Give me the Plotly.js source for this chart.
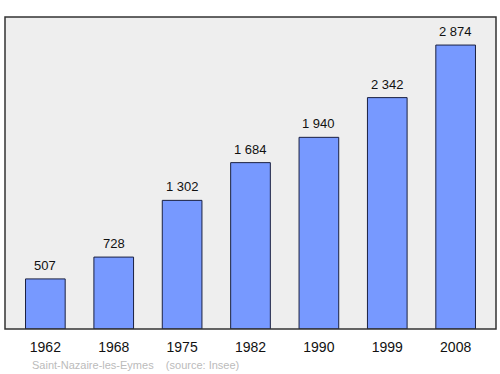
<!DOCTYPE html>
<html><head><meta charset="utf-8">
<script src="https://cdn.plot.ly/plotly-3.0.1.min.js"></script>
<style>body{margin:0;background:#fff}#c{width:500px;height:374px}</style>
</head><body><div id="c"></div>
<script>
const years = ['1962','1968','1975','1982','1990','1999','2008'];
const population = [507, 728, 1302, 1684, 1940, 2342, 2874];
const sourceText = 'Saint-Nazaire-les-Eymes\u00a0\u00a0\u00a0\u00a0(source: Insee)';

function fmt(v){ return String(v).replace(/\B(?=(\d{3})+(?!\d))/g, ' '); }

const trace = {
  type: 'bar', x: years, y: population, width: 0.58,
  marker: {color: '#7799ff', line: {color: '#1a2040', width: 1}},
  hoverinfo: 'none'
};
const ann = years.map((y, i) => ({
  x: i, y: population[i], xref: 'x', yref: 'y', text: fmt(population[i]),
  showarrow: false, yanchor: 'bottom', yshift: 4,
  font: {family: 'Liberation Sans, Arial, sans-serif', size: 13, color: '#111'}
}));
ann.push({x: (30-5)/491, y: -(365-329)/312, xref: 'paper', yref: 'paper', text: sourceText,
  showarrow: false, xanchor: 'left', yanchor: 'middle',
  font: {family: 'Liberation Sans, Arial, sans-serif', size: 11, color: '#bbbbbb'}});

const layout = {
  width: 500, height: 374,
  margin: {l: 5, r: 4, t: 17, b: 45},
  paper_bgcolor: '#ffffff', plot_bgcolor: '#eeeeee',
  showlegend: false,
  xaxis: {type: 'category', range: [-0.59, 6.59], showgrid: false, zeroline: false, showline: false,
    ticks: '', ticklabelstandoff: 8,
    tickfont: {family: 'Liberation Sans, Arial, sans-serif', size: 14, color: '#111'}},
  yaxis: {range: [0, 3158], showgrid: false, zeroline: false, showline: false, showticklabels: false, ticks: ''},
  annotations: ann,
  shapes: [{type: 'rect', xref: 'paper', yref: 'paper', x0: 0, x1: 1, y0: 0, y1: 1,
    line: {color: '#333333', width: 1.5}, fillcolor: 'rgba(0,0,0,0)'}]
};
Plotly.newPlot('c', [trace], layout, {staticPlot: true, displayModeBar: false});
</script></body></html>
